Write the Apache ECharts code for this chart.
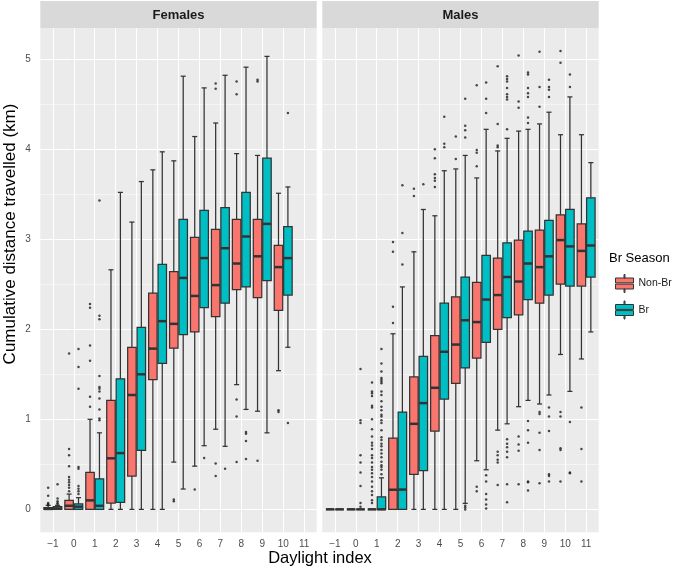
<!DOCTYPE html>
<html><head><meta charset="utf-8">
<script src="https://cdn.jsdelivr.net/npm/echarts@6/dist/echarts.min.js"></script>
<style>html,body{margin:0;padding:0;background:#fff}#chart{width:685px;height:577px}</style>
</head><body><div id="chart"></div>
<script>
// ---------------- data ----------------
const categories = [-1, 0, 1, 2, 3, 4, 5, 6, 7, 8, 9, 10, 11];
const seasons = ['Non-Br', 'Br'];
const panelNames = ['Females', 'Males'];
const yTicks = [0, 1, 2, 3, 4, 5];
const yMinorTicks = [0.5, 1.5, 2.5, 3.5, 4.5];

// per category: [lower whisker, Q1, median, Q3, upper whisker] (null = no data)
const femalesNonBr = [
  [0, 0, 0.005, 0.02, 0.045], [0, 0, 0.04, 0.10, 0.17], [0, 0, 0.10, 0.41, 1.0],
  [0, 0.07, 0.567, 1.21, 2.66], [0, 0.37, 1.27, 1.80, 3.19], [0, 1.44, 1.785, 2.40, 3.77],
  [0.525, 1.79, 2.06, 2.64, 3.87], [0.48, 1.97, 2.37, 3.02, 4.14], [0.89, 2.14, 2.49, 3.11, 4.29],
  [1.385, 2.44, 2.73, 3.22, 3.95], [1.09, 2.35, 2.81, 3.22, 3.93], [1.54, 2.21, 2.69, 2.93, 3.51],
  null
];
const femalesBr = [
  [0, 0, 0.01, 0.03, 0.045], [0, 0, 0.03, 0.06, 0.13], [0, 0, 0.04, 0.34, 0.85],
  [0, 0.078, 0.625, 1.45, 3.52], [0, 0.655, 1.50, 2.02, 3.64], [0, 1.62, 2.09, 2.72, 3.97],
  [0.226, 1.94, 2.57, 3.22, 4.81], [0.707, 2.24, 2.79, 3.32, 4.68], [0.70, 2.29, 2.90, 3.35, 4.82],
  [1.11, 2.47, 3.03, 3.52, 4.91], [0.85, 2.54, 3.17, 3.90, 5.03], [1.80, 2.38, 2.79, 3.14, 3.58],
  null
];
const malesNonBr = [
  [0, 0, 0, 0, 0], [0, 0, 0, 0, 0], [0, 0, 0, 0, 0],
  [0, 0, 0.218, 0.79, 1.95], [0, 0.39, 0.95, 1.47, 2.86], [0, 0.87, 1.35, 1.93, 3.26],
  [0, 1.40, 1.83, 2.36, 3.78], [0.54, 1.68, 2.08, 2.52, 3.68], [0.88, 2.0, 2.38, 2.79, 3.98],
  [1.14, 2.16, 2.53, 2.99, 4.20], [1.17, 2.29, 2.69, 3.10, 4.28], [1.72, 2.50, 2.99, 3.27, 4.16],
  [1.67, 2.48, 2.87, 3.17, 4.16]
];
const malesBr = [
  [0, 0, 0, 0, 0], [0, 0, 0, 0, 0], [0, 0, 0, 0.14, 0.35],
  [0, 0, 0.22, 1.08, 2.47], [0, 0.43, 1.18, 1.70, 3.33], [0, 1.225, 1.75, 2.29, 3.76],
  [0.067, 1.57, 2.10, 2.58, 3.93], [0.44, 1.855, 2.33, 2.82, 4.22], [0.95, 2.13, 2.58, 2.96, 4.12],
  [1.21, 2.33, 2.73, 3.09, 4.22], [1.27, 2.38, 2.81, 3.21, 4.41], [1.31, 2.48, 2.92, 3.33, 4.58],
  [1.97, 2.58, 2.93, 3.46, 3.85]
];

// outliers: [category, value]
const femalesNonBrOutliers = [
  [-1, 0.24], [-1, 0.15], [-1, 0.07], [-1, 0.06], [-1, 0.05],
  [0, 1.73], [0, 0.67], [0, 0.60], [0, 0.48], [0, 0.36], [0, 0.33], [0, 0.30], [0, 0.27], [0, 0.24], [0, 0.20],
  [1, 2.28], [1, 2.24], [1, 1.82], [1, 1.65], [1, 1.25], [1, 1.14],
  [5, 0.11], [5, 0.09], [6, 0.22], [7, 4.73], [7, 4.67], [7, 0.51], [7, 0.37],
  [8, 4.75], [8, 4.61], [8, 1.22], [8, 1.03], [8, 0.525], [9, 4.77], [9, 4.75], [9, 0.54],
  [10, 1.10], [10, 1.08]
];
const femalesBrOutliers = [
  [-1, 0.28], [-1, 0.12], [-1, 0.09], [-1, 0.07], [-1, 0.06],
  [0, 1.78], [0, 1.58], [0, 1.34], [0, 0.47], [0, 0.45], [0, 0.26], [0, 0.23], [0, 0.20], [0, 0.17],
  [1, 3.43], [1, 2.15], [1, 2.11], [1, 1.48], [1, 1.36], [1, 1.34], [1, 1.31], [1, 1.23], [1, 1.11], [1, 1.01], [1, 0.99],
  [6, 0.57], [7, 0.45], [8, 0.86], [8, 0.84], [8, 0.76], [8, 0.56], [10, 4.40], [10, 0.96]
];
const malesNonBrOutliers = [
  [1, 1.41], [1, 1.31], [1, 1.29], [1, 1.26], [1, 1.15], [1, 1.13], [1, 1.00], [1, 0.89], [1, 0.81],
  [1, 0.74], [1, 0.71], [1, 0.67], [1, 0.60], [1, 0.57], [1, 0.52], [1, 0.47], [1, 0.44], [1, 0.40],
  [1, 0.36], [1, 0.31], [1, 0.25], [1, 0.20], [1, 0.16], [1, 0.10], [1, 0.07],
  [2, 2.97], [2, 2.86], [2, 2.25], [2, 2.07], [3, 3.56], [3, 3.48],
  [4, 4.00], [4, 3.90], [4, 3.72], [4, 3.68], [4, 3.65], [4, 3.58], [5, 4.14], [5, 3.89],
  [6, 4.71], [6, 3.99], [6, 3.96], [6, 3.81], [6, 0.25], [6, 0.20],
  [7, 4.92], [7, 4.28], [7, 4.04], [7, 4.02], [7, 0.64], [7, 0.60], [7, 0.55], [7, 0.52], [7, 0.27],
  [8, 5.04], [8, 4.53], [8, 4.46], [8, 0.81], [8, 0.72], [8, 0.65], [8, 0.28],
  [9, 5.08], [9, 4.69], [9, 4.47], [9, 1.08], [9, 1.06], [9, 0.85], [9, 0.66], [9, 0.29],
  [10, 5.09], [10, 4.96], [10, 1.08], [10, 1.03], [10, 0.68], [10, 0.66], [10, 0.31],
  [11, 1.13], [11, 0.67], [11, 0.31]
];
const malesBrOutliers = [
  [0, 1.56], [0, 0.99], [0, 0.96], [0, 0.60], [0, 0.52], [0, 0.41], [0, 0.26], [0, 0.07], [0, 0.03],
  [1, 1.78], [1, 1.62], [1, 1.53], [1, 1.46], [1, 1.44], [1, 1.42], [1, 1.40], [1, 1.31], [1, 1.27],
  [1, 1.20], [1, 1.14], [1, 1.10], [1, 1.05], [1, 1.03], [1, 0.99], [1, 0.96], [1, 0.88], [1, 0.80],
  [1, 0.77], [1, 0.73], [1, 0.70], [1, 0.66], [1, 0.62], [1, 0.58], [1, 0.53], [1, 0.49], [1, 0.47],
  [1, 0.44], [1, 0.39],
  [2, 3.60], [2, 3.07], [2, 2.72], [3, 3.61], [4, 4.36], [4, 4.06], [4, 4.02],
  [5, 4.56], [5, 4.26], [5, 4.21], [5, 4.13], [5, 0.04], [5, 0.02], [5, 0.0],
  [6, 4.74], [6, 4.56], [6, 4.40], [6, 0.38], [6, 0.31], [6, 0.17], [6, 0.11], [6, 0.055], [6, 0.01],
  [7, 4.81], [7, 4.78], [7, 4.75], [7, 4.68], [7, 4.61], [7, 4.58], [7, 4.55], [7, 4.22],
  [7, 0.78], [7, 0.73], [7, 0.69], [7, 0.64], [7, 0.58], [7, 0.28], [7, 0.08],
  [8, 4.85], [8, 4.83], [8, 4.68], [8, 4.62], [8, 4.58], [8, 4.35], [8, 4.29],
  [8, 0.98], [8, 0.88], [8, 0.74], [8, 0.31], [8, 0.30], [8, 0.21],
  [9, 4.77], [9, 4.69], [9, 4.66], [9, 4.58], [9, 1.13], [9, 1.03], [9, 0.87], [9, 0.39], [9, 0.37], [9, 0.31],
  [10, 4.83], [10, 4.69], [10, 0.97], [10, 0.41], [10, 0.40]
];

// ---------------- styling / layout ----------------
const FONT = '"Liberation Sans", Arial, Helvetica, sans-serif';
const COLORS = { 'Non-Br': '#F8766D', 'Br': '#00BFC4' };
const DODGE = { 'Non-Br': -0.225, 'Br': 0.225 };
const BOX_W = 0.405, CAP_W = 0.24;
const LINE = '#333333';
const Y_MIN = -0.2545, Y_MAX = 5.345;
const PANEL_TOP = 28, PANEL_H = 504.3, PANEL_W = 276.4;
const PANEL_LEFTS = [40.3, 322.3];

const panelStats = [
  { 'Non-Br': femalesNonBr, 'Br': femalesBr },
  { 'Non-Br': malesNonBr, 'Br': malesBr }
];
const panelOutliers = [
  { 'Non-Br': femalesNonBrOutliers, 'Br': femalesBrOutliers },
  { 'Non-Br': malesNonBrOutliers, 'Br': malesBrOutliers }
];

function boxRenderer(dodge, color) {
  return function (params, api) {
    const c = api.value(0) + dodge;
    const lo = api.coord([c, api.value(1)]);
    const q1 = api.coord([c, api.value(2)]);
    const md = api.coord([c, api.value(3)]);
    const q3 = api.coord([c, api.value(4)]);
    const hi = api.coord([c, api.value(5)]);
    const left = api.coord([c - BOX_W / 2, 0])[0];
    const right = api.coord([c + BOX_W / 2, 0])[0];
    const capL = api.coord([c - CAP_W / 2, 0])[0];
    const capR = api.coord([c + CAP_W / 2, 0])[0];
    const cx = lo[0];
    const ls = { stroke: LINE, lineWidth: 1.25 };
    return {
      type: 'group',
      children: [
        { type: 'line', shape: { x1: cx, y1: hi[1], x2: cx, y2: lo[1] }, style: ls },
        { type: 'line', shape: { x1: capL, y1: hi[1], x2: capR, y2: hi[1] }, style: ls },
        { type: 'line', shape: { x1: capL, y1: lo[1], x2: capR, y2: lo[1] }, style: ls },
        { type: 'rect', shape: { x: left, y: q3[1], width: right - left, height: q1[1] - q3[1] },
          style: { fill: color, stroke: LINE, lineWidth: 1.25 } },
        { type: 'line', shape: { x1: left, y1: md[1], x2: right, y2: md[1] }, style: { stroke: LINE, lineWidth: 2.5 } }
      ]
    };
  };
}

const grids = [], xAxes = [], yAxes = [], series = [];
const tickLabelStyle = { color: '#4D4D4D', fontSize: 10, fontFamily: FONT };

panelNames.forEach((name, i) => {
  grids.push({ left: PANEL_LEFTS[i], top: PANEL_TOP, width: PANEL_W, height: PANEL_H,
    show: true, backgroundColor: '#EBEBEB', borderWidth: 0, containLabel: false, outerBoundsMode: 'none' });
  xAxes.push({
    type: 'value', gridIndex: i, min: -1.6, max: 11.6,
    axisLine: { show: false }, splitLine: { show: false }, minorSplitLine: { show: false },
    axisTick: { show: true, customValues: categories, length: 2.7, lineStyle: { color: LINE, width: 1.07 } },
    axisLabel: Object.assign({ customValues: categories, margin: 7,
      formatter: v => (v < 0 ? '\u2212' + Math.abs(v) : String(v)) }, tickLabelStyle)
  });
  yAxes.push({
    type: 'value', gridIndex: i, min: Y_MIN, max: Y_MAX,
    axisLine: { show: false }, splitLine: { show: false },
    axisTick: { show: i === 0, customValues: yTicks, length: 2.7, lineStyle: { color: LINE, width: 1.07 } },
    axisLabel: Object.assign({ show: i === 0, customValues: yTicks, margin: 9.5 }, tickLabelStyle)
  });
  // panel grid lines
  series.push({
    type: 'line', name: 'grid' + i, xAxisIndex: i, yAxisIndex: i, data: [], silent: true,
    markLine: {
      silent: true, symbol: ['none', 'none'], label: { show: false }, z: 1, animation: false,
      emphasis: { disabled: true },
      lineStyle: { color: '#FFFFFF', type: 'solid', width: 1.07 },
      data: [].concat(
        yMinorTicks.map(v => ({ yAxis: v, lineStyle: { color: '#FFFFFF', type: 'solid', width: 0.53 } })),
        yTicks.map(v => ({ yAxis: v })),
        categories.map(c => ({ xAxis: c }))
      )
    }
  });
  seasons.forEach(s => {
    const stats = panelStats[i][s];
    const data = [];
    categories.forEach((c, k) => { if (stats[k]) data.push([c].concat(stats[k])); });
    series.push({
      type: 'custom', name: s, xAxisIndex: i, yAxisIndex: i, z: 3,
      itemStyle: { color: COLORS[s] },
      encode: { x: 0, y: [1, 2, 3, 4, 5] },
      renderItem: boxRenderer(DODGE[s], COLORS[s]),
      data: data
    });
    series.push({
      type: 'scatter', name: s + ' outliers', xAxisIndex: i, yAxisIndex: i, z: 3, silent: true,
      symbol: 'circle', symbolSize: 2.5, itemStyle: { color: '#1E1E1E' },
      data: panelOutliers[i][s].map(p => [p[0] + DODGE[s], p[1]])
    });
  });
});

const ICON = 'path://M8.5,0L9.5,0L9.5,3.5L8.5,3.5Z M0,3.5L18,3.5L18,8.4L0,8.4Z M0,9.6L18,9.6L18,14.5L0,14.5Z M8.5,14.5L9.5,14.5L9.5,18L8.5,18Z';

const graphics = [];
panelNames.forEach((name, i) => {
  graphics.push({ type: 'rect', left: PANEL_LEFTS[i], top: 1, z: 0,
    shape: { width: PANEL_W, height: PANEL_TOP - 1 }, style: { fill: '#D9D9D9' } });
  graphics.push({ type: 'text', x: PANEL_LEFTS[i] + PANEL_W / 2, y: 15, z: 1,
    style: { text: name, font: 'bold 13px ' + FONT, fill: '#1A1A1A', align: 'center', verticalAlign: 'middle' } });
});
graphics.push({ type: 'text', x: 320, y: 558,
  style: { text: 'Daylight index', font: '16.5px ' + FONT, fill: '#000', align: 'center', verticalAlign: 'middle' } });
graphics.push({ type: 'text', x: 10, y: 234, rotation: Math.PI / 2,
  style: { text: 'Cumulative distance travelled (km)', font: '17px ' + FONT, fill: '#000', align: 'center', verticalAlign: 'middle' } });
graphics.push({ type: 'text', x: 609, y: 258,
  style: { text: 'Br Season', font: '13px ' + FONT, fill: '#000', align: 'left', verticalAlign: 'middle' } });

const option = {
  animation: false,
  backgroundColor: '#FFFFFF',
  grid: grids,
  xAxis: xAxes,
  yAxis: yAxes,
  legend: {
    data: seasons, orient: 'vertical', left: 610, top: 269,
    itemWidth: 18, itemHeight: 18, itemGap: 7.5, icon: ICON, selectedMode: false,
    itemStyle: { borderColor: LINE, borderWidth: 1 },
    textStyle: { fontSize: 10.5, fontFamily: FONT, color: '#1A1A1A' }
  },
  graphic: graphics,
  series: series
};

const chart = echarts.init(document.getElementById('chart'));
chart.setOption(option);
</script></body></html>
